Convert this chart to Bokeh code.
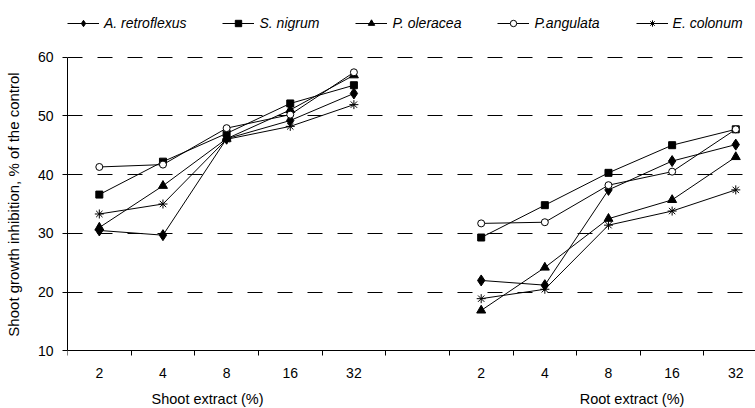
from bokeh.plotting import figure
from bokeh.models import FixedTicker, Legend, LegendItem, Range1d, Label
from bokeh.embed import file_html
from bokeh.resources import INLINE
import numpy as np

# ---- data ----
concentrations = ["2", "4", "8", "16", "32"]
extracts = ["Shoot extract (%)", "Root extract (%)"]
extract_label_pos = [1.70, 8.37]

species = ["A. retroflexus", "S. nigrum", "P. oleracea", "P.angulata", "E. colonum"]
markers = ["diamond", "square", "triangle", "circle", "asterisk"]

shoot_retroflexus = [30.5, 29.7, 46.1, 49.2, 53.8]
shoot_nigrum = [36.6, 42.2, 47.0, 52.1, 55.2]
shoot_oleracea = [31.0, 38.1, 46.1, 51.0, 56.9]
shoot_angulata = [41.3, 41.7, 47.9, 50.2, 57.4]
shoot_colonum = [33.3, 35.0, 46.0, 48.2, 51.9]

root_retroflexus = [22.0, 21.2, 37.4, 42.3, 45.1]
root_nigrum = [29.3, 34.8, 40.3, 45.0, 47.7]
root_oleracea = [16.9, 24.2, 32.5, 35.7, 43.0]
root_angulata = [31.7, 31.9, 38.2, 40.5, 47.7]
root_colonum = [18.9, 20.5, 31.4, 33.8, 37.4]

shoot = [shoot_retroflexus, shoot_nigrum, shoot_oleracea, shoot_angulata, shoot_colonum]
root = [root_retroflexus, root_nigrum, root_oleracea, root_angulata, root_colonum]

y_ticks = [10, 20, 30, 40, 50, 60]
grid_ticks = [20, 30, 40, 50, 60]

# category slots: shoot 0..4, empty slot 5, root 6..10
n = len(concentrations)
shoot_x = list(range(n))
root_x = [n + 1 + i for i in range(n)]

FONT = "Liberation Sans"

# The frame covers the full canvas height so that the legend and the group
# titles (drawn inside the frame) are not clipped; the x axis sits at y = 10.
p = figure(width=755, height=408, output_backend="svg", toolbar_location=None,
           x_range=Range1d(-0.5, 10.31), y_range=Range1d(0.22, 69.61),
           min_border_left=67, min_border_right=0, min_border_top=0,
           min_border_bottom=0)
p.outline_line_color = None
p.background_fill_color = "white"
p.border_fill_color = "white"

marker_size = {"diamond": 11, "square": 7, "triangle": 9, "circle": 7, "asterisk": 9}

items = []
for name, mk, sv, rv in zip(species, markers, shoot, root):
    xs = shoot_x + [np.nan] + root_x
    ys = sv + [np.nan] + rv
    lr = p.line(xs, ys, line_color="black", line_width=1)
    fill = "white" if mk == "circle" else "black"
    sr = p.scatter(xs, ys, marker=mk, size=marker_size[mk], fill_color=fill,
                   line_color="black", line_width=1)
    items.append(LegendItem(label=name, renderers=[lr, sr]))

# x axis: labels at slot centres, tick marks at slot boundaries (minor ticks)
xa = p.xaxis[0]
xa.fixed_location = 10
xa.ticker = FixedTicker(ticks=shoot_x + root_x,
                        minor_ticks=[v - 0.5 for v in range(0, 11)])
xa.major_label_overrides = {x: c for x, c in zip(shoot_x + root_x, concentrations * 2)}
xa.major_tick_out = 0
xa.major_tick_in = 0
xa.minor_tick_out = 5
xa.minor_tick_in = 0
xa.minor_tick_line_color = "black"
xa.axis_line_color = "black"
xa.major_label_text_font = FONT
xa.major_label_text_font_size = "14px"
xa.major_label_text_color = "black"
xa.major_label_standoff = 12

ya = p.yaxis[0]
ya.ticker = FixedTicker(ticks=y_ticks)
ya.bounds = (10, 60)
ya.major_tick_out = 5
ya.major_tick_in = 0
ya.minor_tick_out = 0
ya.minor_tick_in = 0
ya.axis_line_color = "black"
ya.major_tick_line_color = "black"
ya.major_label_text_font = FONT
ya.major_label_text_font_size = "14px"
ya.major_label_text_color = "black"
ya.major_label_standoff = 9
ya.axis_label = "Shoot growth inhibition, % of the control"
ya.axis_label_text_font = FONT
ya.axis_label_text_font_style = "normal"
ya.axis_label_text_font_size = "15px"
ya.axis_label_text_color = "black"
ya.axis_label_standoff = 13

p.xgrid.visible = False
p.ygrid.ticker = FixedTicker(ticks=grid_ticks)
p.ygrid.grid_line_color = "black"
p.ygrid.grid_line_dash = "15 15"
p.ygrid.grid_line_width = 1

# group titles under the axis
for cx, t in zip(extract_label_pos, extracts):
    p.add_layout(Label(x=cx, y=1.92, text=t, text_align="center",
                       text_baseline="middle", text_font=FONT,
                       text_font_size="14.5px", text_color="black"))

legend = Legend(items=items, orientation="horizontal", location=(0, 377),
                glyph_width=32, glyph_height=16, label_height=16,
                label_standoff=5, spacing=36, padding=0, margin=0,
                border_line_color=None, background_fill_alpha=0,
                label_text_font=FONT, label_text_font_style="italic",
                label_text_font_size="14px", label_text_color="black")
p.add_layout(legend, "center")

open("out.html", "w").write(file_html(p, INLINE))
